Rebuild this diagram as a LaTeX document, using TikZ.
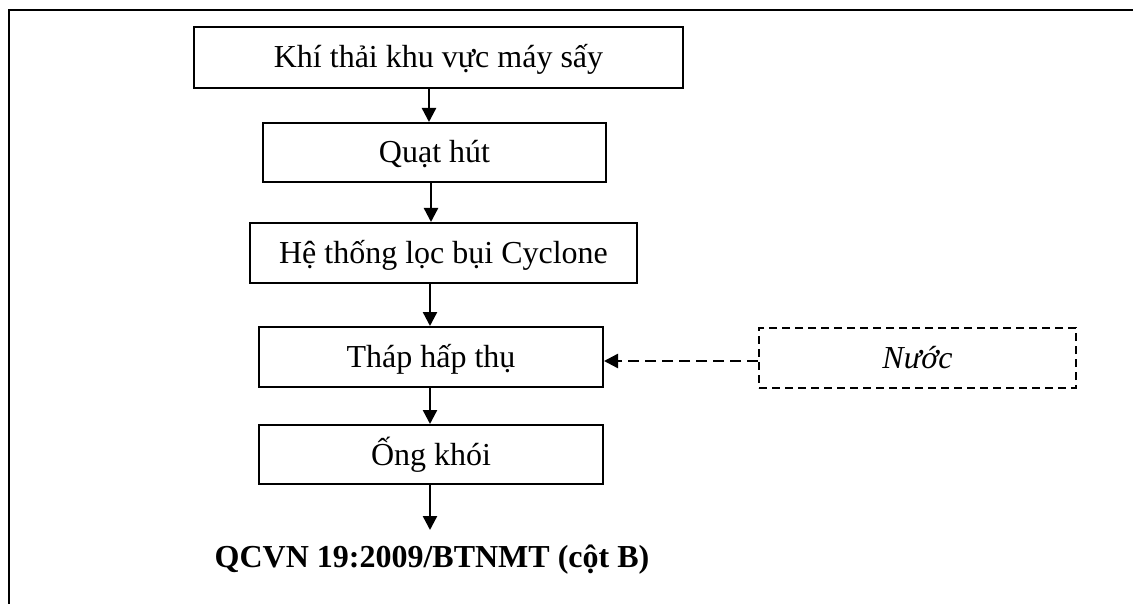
\documentclass[tikz,border=0pt]{standalone}
\usepackage{fontspec}
\setmainfont{Liberation Serif}
\usetikzlibrary{arrows.meta}
\begin{document}
\begin{tikzpicture}[x=1pt,y=-1pt,
  boxtext/.style={text height=21pt,text depth=0pt,inner sep=0pt,rectangle},
  stepbox/.style={draw,line width=2pt,boxtext,
    font=\fontsize{32}{38}\selectfont},
  inbox/.style={draw,line width=1.8pt,dash pattern=on 8pt off 5pt,boxtext,
    font=\fontsize{32}{38}\selectfont\itshape},
  flow/.style={line width=2.4pt,-{Triangle[length=14pt,width=14pt]}},
  feed/.style={line width=2.4pt,dash pattern=on 11pt off 6pt,-{Triangle[length=14pt,width=14pt]}}]
\useasboundingbox (0,0) rectangle (1133,604);
% open frame: top and left edges
\draw[line width=2.6pt] (9,604) -- (9,10) -- (1133,10);
% process chain
\node[stepbox,minimum width=489pt,minimum height=61pt] (b1) at (438.5,57.5) {Khí thải khu vực máy sấy};
\node[stepbox,minimum width=343pt,minimum height=59pt] (b2) at (434.5,152.5) {Quạt hút};
\node[stepbox,minimum width=387pt,minimum height=60pt] (b3) at (443.5,253) {Hệ thống lọc bụi Cyclone};
\node[stepbox,minimum width=344pt,minimum height=60pt] (b4) at (431,357) {Tháp hấp thụ};
\node[stepbox,minimum width=344pt,minimum height=59pt] (b5) at (431,454.5) {Ống khói};
\node[inbox,minimum width=317pt,minimum height=60pt] (w) at (917.5,358) {Nước};
\node[boxtext,font=\fontsize{32}{38}\selectfont\bfseries] (q) at (432,557) {QCVN 19:2009/BTNMT (cột B)};
\coordinate (end) at (430,530);
% connectors
\draw[flow] (b1.south -| 429,0) -- (b2.north -| 429,0);
\draw[flow] (b2.south -| 431,0) -- (b3.north -| 431,0);
\draw[flow] (b3.south -| 430,0) -- (b4.north -| 430,0);
\draw[flow] (b4.south -| 430,0) -- (b5.north -| 430,0);
\draw[flow] (b5.south -| end) -- (end);
\draw[feed] (w.west |- 0,361) -- (b4.east |- 0,361);
\end{tikzpicture}
\end{document}
